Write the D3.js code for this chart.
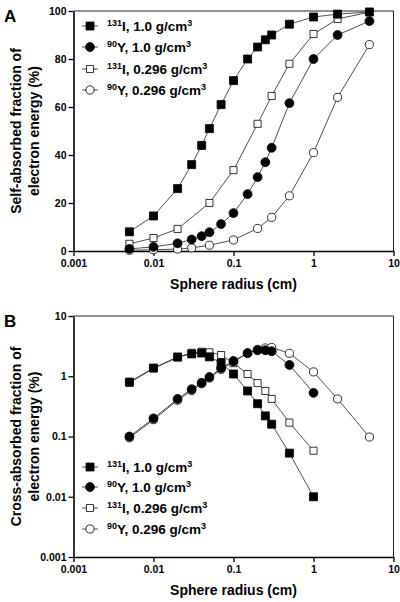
<!DOCTYPE html>
<html><head><meta charset="utf-8">
<script src="https://cdn.jsdelivr.net/npm/d3@7"></script>
<style>body{margin:0;background:#fff}svg{display:block}text{font-family:"Liberation Sans",Arial,sans-serif;font-weight:bold;fill:#000}</style>
</head><body><svg id="c" width="400" height="602"></svg>
<script>
// ---- Data ----
const xTicks = [0.001, 0.01, 0.1, 1, 10];
const xTickLabels = ["0.001", "0.01", "0.1", "1", "10"];
const yTicksA = [0, 20, 40, 60, 80, 100];
const yTicksB = [0.001, 0.01, 0.1, 1, 10];
const yTickLabelsB = ["0.001", "0.01", "0.1", "1", "10"];
const seriesNames = ["131I, 1.0", "90Y, 1.0", "131I, 0.296", "90Y, 0.296"];

// Panel A: self-absorbed fraction (%)
const aI10x = [0.005,0.01,0.02,0.03,0.04,0.05,0.07,0.1,0.15,0.2,0.25,0.3,0.5,1,2,5];
const aI10y = [8,14.6,26,36,44,51,61,71,80,85,88,90,94.5,97.5,98.7,99.6];
const aY10x = [0.005,0.01,0.02,0.03,0.04,0.05,0.07,0.1,0.15,0.2,0.25,0.3,0.5,1,2,5];
const aY10y = [0.9,1.7,3.2,4.8,6.2,7.8,11.2,15.8,23.7,30.8,37,43,61.6,80,90,95.8];
const aI03x = [0.005,0.01,0.02,0.05,0.1,0.2,0.3,0.5,1,2,5];
const aI03y = [3,5.4,9.2,20,33.7,53,64.6,78,90.4,96.7,99.5];
const aY03x = [0.005,0.01,0.02,0.03,0.05,0.1,0.2,0.3,0.5,1,2,5];
const aY03y = [0.3,0.5,0.8,1.3,2.4,4.6,9.4,14,23,41,64,86];

// Panel B: cross-absorbed fraction (%)
const bI10x = [0.005,0.01,0.02,0.03,0.04,0.05,0.07,0.1,0.15,0.2,0.25,0.3,0.5,1];
const bI10y = [0.80,1.37,2.09,2.35,2.43,2.1,1.66,1.09,0.57,0.35,0.22,0.16,0.053,0.01];
const bY10x = [0.005,0.01,0.02,0.03,0.04,0.05,0.07,0.1,0.15,0.2,0.25,0.3,0.5,1];
const bY10y = [0.1,0.2,0.42,0.61,0.78,0.97,1.37,1.79,2.43,2.7,2.7,2.6,1.54,0.53];
const bI03x = [0.005,0.01,0.02,0.03,0.04,0.05,0.07,0.1,0.15,0.2,0.25,0.3,0.5,1];
const bI03y = [0.78,1.35,2.05,2.45,2.55,2.5,2.25,1.65,1.09,0.77,0.57,0.42,0.17,0.058];
const bY03x = [0.005,0.01,0.02,0.03,0.04,0.05,0.07,0.1,0.15,0.2,0.25,0.3,0.5,1,2,5];
const bY03y = [0.095,0.19,0.4,0.58,0.75,0.93,1.3,1.75,2.4,2.8,2.95,3.0,2.4,1.18,0.42,0.098];

const svg = d3.select("#c");
const zip = (xs, ys) => xs.map((x, i) => [x, ys[i]]);

const styles = [
  {sym: d3.symbolSquare, fill: "#000", size: 64},   // 131I 1.0
  {sym: d3.symbolCircle, fill: "#000", size: 62},   // 90Y 1.0
  {sym: d3.symbolSquare, fill: "#fff", size: 50},   // 131I 0.296
  {sym: d3.symbolCircle, fill: "#fff", size: 52}    // 90Y 0.296
];

function panel(cfg) {
  const g = svg.append("g");
  const x = d3.scaleLog().domain([0.001, 10]).range([73.5, 393.5]);
  const y = cfg.y;
  // frame
  g.append("line").attr("x1", x.range()[0]).attr("x2", x.range()[1]).attr("y1", y.range()[1]).attr("y2", y.range()[1]).attr("stroke", "#222").attr("stroke-width", 1);
  g.append("line").attr("x1", x.range()[1]).attr("x2", x.range()[1]).attr("y1", y.range()[1]).attr("y2", y.range()[0]).attr("stroke", "#222").attr("stroke-width", 1);
  // axes
  const xa = g.append("g").attr("transform", `translate(0,${y.range()[0]})`)
    .call(d3.axisBottom(x).tickValues(xTicks).tickFormat((d, i) => xTickLabels[i]).tickSize(5).tickSizeOuter(0));
  const ya = g.append("g").attr("transform", `translate(${x.range()[0]},0)`)
    .call(d3.axisLeft(y).tickValues(cfg.yTicks).tickFormat((d, i) => cfg.yLabels[i]).tickSize(5).tickSizeOuter(0));
  [xa, ya].forEach(a => {
    a.select(".domain").attr("stroke", "#000").attr("stroke-width", 1.6);
    a.selectAll(".tick line").attr("stroke", "#000").attr("stroke-width", 1.3);
    a.selectAll("text").style("font-size", "10.5px").style("font-weight", "bold").attr("fill", "#000");
  });
  xa.selectAll("text").attr("y", 9);
  ya.selectAll("text").attr("x", -7);
  // titles
  const midX = (x.range()[0] + x.range()[1]) / 2;
  const midY = (y.range()[0] + y.range()[1]) / 2;
  g.append("text").attr("x", midX).attr("y", y.range()[0] + 38).attr("text-anchor", "middle").style("font-size", "14px").text("Sphere radius (cm)");
  const yt = g.append("text").attr("transform", `translate(20.5,${midY}) rotate(-90)`).attr("text-anchor", "middle").style("font-size", "14px");
  yt.append("tspan").attr("x", 0).attr("y", 0).text(cfg.yTitle1);
  yt.append("tspan").attr("x", 0).attr("y", 18).text(cfg.yTitle2);
  g.append("text").attr("x", 4).attr("y", y.range()[1] + 11).style("font-size", "17px").text(cfg.letter);

  // series (open first, then filled)
  const line = d3.line().x(d => x(d[0])).y(d => y(d[1]));
  const order = [2, 3, 0, 1];
  order.forEach(k => {
    const data = cfg.data[k];
    g.append("path").attr("d", line(data)).attr("fill", "none").attr("stroke", "#222").attr("stroke-width", 0.8);
  });
  order.forEach(k => {
    const s = styles[k];
    g.selectAll(null).data(cfg.data[k]).enter().append("path")
      .attr("transform", d => `translate(${x(d[0])},${y(d[1])})`)
      .attr("d", d3.symbol().type(s.sym).size(s.size))
      .attr("fill", s.fill).attr("stroke", "#000").attr("stroke-width", 0.8);
  });

  // legend
  const lg = g.append("g");
  cfg.legendY.forEach((ly, k) => {
    const s = styles[k];
    lg.append("line").attr("x1", 82).attr("x2", 98).attr("y1", ly).attr("y2", ly).attr("stroke", "#222").attr("stroke-width", 0.8);
    lg.append("path").attr("transform", `translate(90,${ly})`).attr("d", d3.symbol().type(s.sym).size(s.size))
      .attr("fill", s.fill).attr("stroke", "#000").attr("stroke-width", 0.8);
    const parts = seriesNames[k].split(", ");
    const iso = parts[0].match(/^(\d+)(\D+)$/);
    const t = lg.append("text").attr("x", 107).attr("y", ly + 4.5).style("font-size", "13.5px");
    t.append("tspan").style("font-size", "9px").attr("dy", -5).text(iso[1]);
    t.append("tspan").attr("dy", 5).text(iso[2] + ", " + parts[1] + " g/cm");
    t.append("tspan").style("font-size", "9px").attr("dy", -5).text("3");
  });
}

panel({
  y: d3.scaleLinear().domain([0, 100]).range([251, 11]),
  yTicks: yTicksA, yLabels: yTicksA.map(String),
  yTitle1: "Self-absorbed fraction of", yTitle2: "electron energy  (%)",
  letter: "A",
  data: [zip(aI10x, aI10y), zip(aY10x, aY10y), zip(aI03x, aI03y), zip(aY03x, aY03y)],
  legendY: [26, 47, 69, 90]
});
panel({
  y: d3.scaleLog().domain([0.001, 10]).range([557, 316]),
  yTicks: yTicksB, yLabels: yTickLabelsB,
  yTitle1: "Cross-absorbed fraction of", yTitle2: "electron energy (%)",
  letter: "B",
  data: [zip(bI10x, bI10y), zip(bY10x, bY10y), zip(bI03x, bI03y), zip(bY03x, bY03y)],
  legendY: [467, 487, 508, 529]
});
</script></body></html>
